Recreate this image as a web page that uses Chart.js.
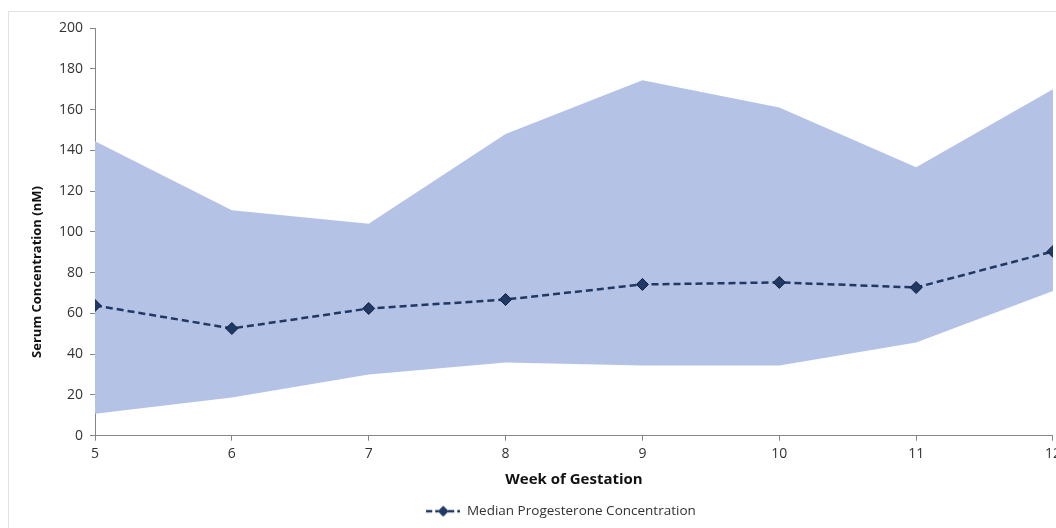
<!DOCTYPE html>
<html>
<head>
<meta charset="utf-8">
<script src="https://cdn.jsdelivr.net/npm/chart.js@4.4.0/dist/chart.umd.min.js"></script>
<style>
  html, body { margin: 0; padding: 0; background: #fff; overflow: hidden; }
  #frame { position: absolute; left: 8px; top: 11px; width: 1100px; height: 600px;
           border-left: 1px solid #e3e3e3; border-top: 1px solid #e3e3e3; }
  #wrap { position: absolute; left: 0; top: 0; width: 1066px; height: 528px; }
</style>
</head>
<body>
<div id="frame"></div>
<div id="wrap"><canvas id="myChart"></canvas></div>
<script>
// week of gestation
const weeks = [5, 6, 7, 8, 9, 10, 11, 12];
// median progesterone (nM)
const medianVals = [63.9, 52.6, 62.4, 66.8, 74.2, 75.2, 72.7, 90.4];
// range band
const upperVals = [144.5, 110.6, 104, 148, 174.4, 161, 131.7, 170];
const lowerVals = [10.8, 18.7, 30, 35.9, 34.4, 34.4, 45.7, 71];
const yTicks = [0, 20, 40, 60, 80, 100, 120, 140, 160, 180, 200];

const navy = '#203864';
const bandColor = 'rgb(180,194,230)';
const font = "'Open Sans', 'Liberation Sans', sans-serif";
const axisColor = '#868686';

function toPoints(vals) {
  return weeks.map((w, i) => ({ x: w, y: vals[i] }));
}

// little picture for the legend: dashed line + diamond
function legendIcon() {
  const c = document.createElement('canvas');
  c.width = 34; c.height = 14;
  const g = c.getContext('2d');
  g.strokeStyle = navy;
  g.lineWidth = 2.5;
  g.setLineDash([6, 3]);
  g.beginPath(); g.moveTo(0, 7); g.lineTo(12, 7); g.moveTo(22, 7); g.lineTo(34, 7); g.stroke();
  g.setLineDash([]);
  g.fillStyle = navy;
  g.beginPath(); g.moveTo(17, 1.5); g.lineTo(22.5, 7); g.lineTo(17, 12.5); g.lineTo(11.5, 7); g.closePath(); g.fill();
  return c;
}

// y title drawn where the original puts it (a bit below the axis middle)
const yTitlePlugin = {
  id: 'yTitle',
  afterDraw(chart) {
    const ctx = chart.ctx;
    ctx.save();
    ctx.translate(37, 272);
    ctx.rotate(-Math.PI / 2);
    ctx.font = "bold 13px " + font;
    ctx.fillStyle = '#111';
    ctx.textAlign = 'center';
    ctx.textBaseline = 'middle';
    ctx.fillText('Serum Concentration (nM)', 0, 0);
    ctx.restore();
  }
};

// legend sits under the plot centre, not the canvas centre
const legendShift = {
  id: 'legendShift',
  afterLayout(chart) {
    chart.legend.left += 28;
    chart.legend.right += 28;
  }
};

new Chart(document.getElementById('myChart'), {
  type: 'line',
  data: {
    datasets: [
      {
        label: 'lower',
        data: toPoints(lowerVals),
        borderWidth: 0,
        pointRadius: 0,
        fill: false,
        order: 3
      },
      {
        label: 'upper',
        data: toPoints(upperVals),
        borderWidth: 0,
        pointRadius: 0,
        backgroundColor: bandColor,
        fill: '-1',
        order: 2
      },
      {
        label: 'Median Progesterone Concentration',
        data: toPoints(medianVals),
        borderColor: navy,
        borderWidth: 2.5,
        borderDash: [7, 4],
        pointStyle: 'rectRot',
        pointRadius: 6,
        pointBackgroundColor: navy,
        pointBorderColor: '#0f1f3d',
        pointBorderWidth: 1,
        fill: false,
        order: 1
      }
    ]
  },
  plugins: [yTitlePlugin, legendShift],
  options: {
    responsive: true,
    maintainAspectRatio: false,
    animation: false,
    layout: { padding: { top: 28, right: 0, bottom: 0, left: 0 } },
    plugins: {
      tooltip: { enabled: false },
      legend: {
        position: 'bottom',
        labels: {
          font: { family: font, size: 13.5 },
          color: '#333',
          usePointStyle: true,
          pointStyleWidth: 34,
          padding: 9,
          generateLabels: chart => [{
            text: 'Median Progesterone Concentration',
            pointStyle: legendIcon(),
            datasetIndex: 2,
            fontColor: '#333',
            lineWidth: 0
          }]
        }
      }
    },
    scales: {
      x: {
        type: 'linear',
        min: 5, max: 12,
        ticks: { stepSize: 1, font: { family: font, size: 14 }, color: '#333', padding: 5 },
        grid: { drawOnChartArea: false, tickLength: 5, color: axisColor },
        border: { color: axisColor, width: 1 },
        title: { display: true, text: 'Week of Gestation', font: { family: font, size: 15, weight: 'bold' }, color: '#111', padding: { top: 3, bottom: 7 } }
      },
      y: {
        min: 0, max: 200,
        afterBuildTicks: s => { s.ticks = yTicks.map(v => ({ value: v })); },
        ticks: { font: { family: font, size: 14 }, color: '#333', padding: 7 },
        grid: { drawOnChartArea: false, tickLength: 5, color: axisColor },
        border: { color: axisColor, width: 1 },
        afterFit: s => { s.width = 95; }
      }
    }
  }
});
</script>
</body>
</html>
